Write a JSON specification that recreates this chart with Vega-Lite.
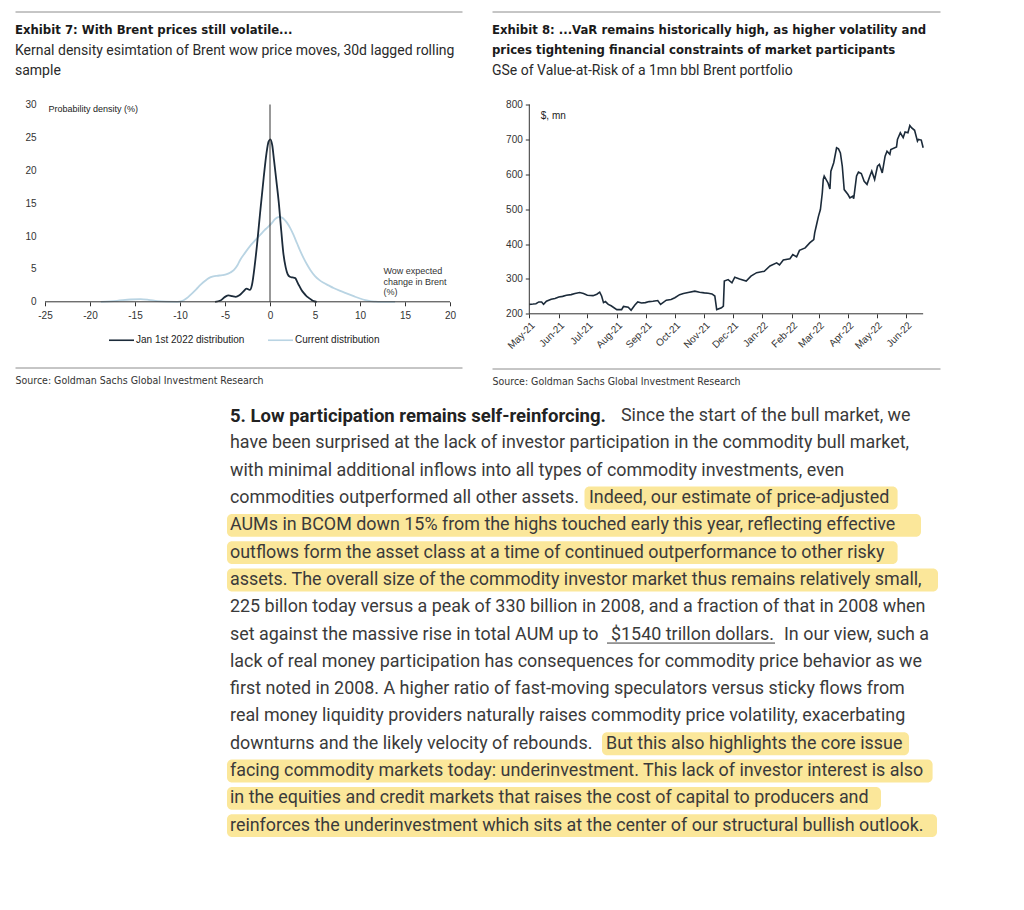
{
  "$schema": "https://vega.github.io/schema/vega-lite/v6.json",
  "background": "white",
  "padding": {"left": 15, "top": 11.5, "right": 10, "bottom": 10},
  "config": {"view": {"stroke": null}, "axis": {"grid": false}},
  "spacing": 15,
  "vconcat": [
    {
      "spacing": 30,
      "hconcat": [
        {
          "width": 447,
          "height": 197.3,
          "title": {
            "text": "Exhibit 7: With Brent prices still volatile...",
            "subtitle": ["Kernal density esimtation of Brent wow price moves, 30d lagged rolling", "sample"],
            "anchor": "start", "frame": "group", "offset": -66,
            "font": "DejaVu Sans Condensed, Liberation Sans Narrow, sans-serif", "fontSize": 13, "fontWeight": "bold", "color": "#1a1a1a", "lineHeight": 20,
            "subtitleFont": "Roboto", "subtitleFontSize": 14, "subtitleColor": "#2a2a2a", "subtitlePadding": 7, "subtitleLineHeight": 20
          },
          "resolve": {"axis": {"x": "independent", "y": "independent"}},
          "layer": [
            {
              "data": {"values": [
                {"series": "Current distribution", "change": -18.8, "density": 0},
                {"series": "Current distribution", "change": -17, "density": 0.15},
                {"series": "Current distribution", "change": -15.5, "density": 0.35},
                {"series": "Current distribution", "change": -14.4, "density": 0.4},
                {"series": "Current distribution", "change": -13.5, "density": 0.3},
                {"series": "Current distribution", "change": -12.5, "density": 0.1},
                {"series": "Current distribution", "change": -11.5, "density": 0.02},
                {"series": "Current distribution", "change": -10.3, "density": 0},
                {"series": "Current distribution", "change": -9.8, "density": 0.1},
                {"series": "Current distribution", "change": -9.3, "density": 0.5},
                {"series": "Current distribution", "change": -8.8, "density": 1.1},
                {"series": "Current distribution", "change": -8.2, "density": 1.9},
                {"series": "Current distribution", "change": -7.7, "density": 2.6},
                {"series": "Current distribution", "change": -7.2, "density": 3.2},
                {"series": "Current distribution", "change": -6.8, "density": 3.6},
                {"series": "Current distribution", "change": -6.3, "density": 3.85},
                {"series": "Current distribution", "change": -5.9, "density": 3.95},
                {"series": "Current distribution", "change": -5.3, "density": 4.05},
                {"series": "Current distribution", "change": -4.8, "density": 4.2},
                {"series": "Current distribution", "change": -4.4, "density": 4.45},
                {"series": "Current distribution", "change": -4.0, "density": 4.85},
                {"series": "Current distribution", "change": -3.6, "density": 5.6},
                {"series": "Current distribution", "change": -3.3, "density": 6.4},
                {"series": "Current distribution", "change": -2.8, "density": 7.4},
                {"series": "Current distribution", "change": -2.2, "density": 8.5},
                {"series": "Current distribution", "change": -1.6, "density": 9.4},
                {"series": "Current distribution", "change": -1.07, "density": 10.2},
                {"series": "Current distribution", "change": -0.6, "density": 10.9},
                {"series": "Current distribution", "change": -0.33, "density": 11.25},
                {"series": "Current distribution", "change": 0.22, "density": 12.0},
                {"series": "Current distribution", "change": 0.5, "density": 12.5},
                {"series": "Current distribution", "change": 0.78, "density": 12.8},
                {"series": "Current distribution", "change": 1.05, "density": 12.9},
                {"series": "Current distribution", "change": 1.33, "density": 12.8},
                {"series": "Current distribution", "change": 1.6, "density": 12.5},
                {"series": "Current distribution", "change": 1.9, "density": 12.0},
                {"series": "Current distribution", "change": 2.25, "density": 11.2},
                {"series": "Current distribution", "change": 2.6, "density": 10.2},
                {"series": "Current distribution", "change": 3.0, "density": 8.9},
                {"series": "Current distribution", "change": 3.37, "density": 7.7},
                {"series": "Current distribution", "change": 3.75, "density": 6.6},
                {"series": "Current distribution", "change": 4.1, "density": 5.7},
                {"series": "Current distribution", "change": 4.5, "density": 4.8},
                {"series": "Current distribution", "change": 5.0, "density": 3.9},
                {"series": "Current distribution", "change": 5.5, "density": 3.3},
                {"series": "Current distribution", "change": 5.95, "density": 2.9},
                {"series": "Current distribution", "change": 6.5, "density": 2.5},
                {"series": "Current distribution", "change": 7.06, "density": 2.1},
                {"series": "Current distribution", "change": 7.8, "density": 1.65},
                {"series": "Current distribution", "change": 8.5, "density": 1.27},
                {"series": "Current distribution", "change": 9.3, "density": 0.85},
                {"series": "Current distribution", "change": 10.0, "density": 0.5},
                {"series": "Current distribution", "change": 10.6, "density": 0.25},
                {"series": "Current distribution", "change": 11.1, "density": 0.1},
                {"series": "Current distribution", "change": 11.7, "density": 0.03},
                {"series": "Current distribution", "change": 12.2, "density": 0},
                {"series": "Current distribution", "change": 13.9, "density": 0},
                {"series": "Jan 1st 2022 distribution", "change": -6.1, "density": 0},
                {"series": "Jan 1st 2022 distribution", "change": -5.5, "density": 0.2},
                {"series": "Jan 1st 2022 distribution", "change": -5.0, "density": 0.75},
                {"series": "Jan 1st 2022 distribution", "change": -4.6, "density": 0.98},
                {"series": "Jan 1st 2022 distribution", "change": -4.2, "density": 0.85},
                {"series": "Jan 1st 2022 distribution", "change": -3.8, "density": 0.75},
                {"series": "Jan 1st 2022 distribution", "change": -3.4, "density": 1.0},
                {"series": "Jan 1st 2022 distribution", "change": -3.0, "density": 1.5},
                {"series": "Jan 1st 2022 distribution", "change": -2.6, "density": 2.0},
                {"series": "Jan 1st 2022 distribution", "change": -2.25, "density": 1.8},
                {"series": "Jan 1st 2022 distribution", "change": -2.0, "density": 2.6},
                {"series": "Jan 1st 2022 distribution", "change": -1.7, "density": 5.5},
                {"series": "Jan 1st 2022 distribution", "change": -1.44, "density": 8.7},
                {"series": "Jan 1st 2022 distribution", "change": -1.1, "density": 13.5},
                {"series": "Jan 1st 2022 distribution", "change": -0.7, "density": 18.9},
                {"series": "Jan 1st 2022 distribution", "change": -0.4, "density": 22.5},
                {"series": "Jan 1st 2022 distribution", "change": -0.15, "density": 24.4},
                {"series": "Jan 1st 2022 distribution", "change": 0.05, "density": 24.7},
                {"series": "Jan 1st 2022 distribution", "change": 0.25, "density": 23.8},
                {"series": "Jan 1st 2022 distribution", "change": 0.45, "density": 21.5},
                {"series": "Jan 1st 2022 distribution", "change": 0.7, "density": 18.5},
                {"series": "Jan 1st 2022 distribution", "change": 0.96, "density": 15.3},
                {"series": "Jan 1st 2022 distribution", "change": 1.25, "density": 10.8},
                {"series": "Jan 1st 2022 distribution", "change": 1.5, "density": 7.2},
                {"series": "Jan 1st 2022 distribution", "change": 1.75, "density": 5.2},
                {"series": "Jan 1st 2022 distribution", "change": 1.96, "density": 4.2},
                {"series": "Jan 1st 2022 distribution", "change": 2.2, "density": 3.8},
                {"series": "Jan 1st 2022 distribution", "change": 2.5, "density": 3.7},
                {"series": "Jan 1st 2022 distribution", "change": 2.81, "density": 3.6},
                {"series": "Jan 1st 2022 distribution", "change": 3.0, "density": 3.1},
                {"series": "Jan 1st 2022 distribution", "change": 3.2, "density": 2.55},
                {"series": "Jan 1st 2022 distribution", "change": 3.5, "density": 1.8},
                {"series": "Jan 1st 2022 distribution", "change": 3.74, "density": 1.35},
                {"series": "Jan 1st 2022 distribution", "change": 4.0, "density": 0.95},
                {"series": "Jan 1st 2022 distribution", "change": 4.3, "density": 0.6},
                {"series": "Jan 1st 2022 distribution", "change": 4.6, "density": 0.3},
                {"series": "Jan 1st 2022 distribution", "change": 4.85, "density": 0.1},
                {"series": "Jan 1st 2022 distribution", "change": 5.2, "density": 0}
              ]},
              "mark": {"type": "line", "interpolate": "monotone", "strokeWidth": 1.8},
              "encoding": {
                "x": {
                  "field": "change", "type": "quantitative",
                  "scale": {"domain": [-28.3333, 21.3333], "nice": false, "zero": false},
                  "axis": {
                    "orient": "bottom", "values": [-25, -20, -15, -10, -5, 0, 5, 10, 15, 20],
                    "labelExpr": "replace(datum.label, '\u2212', '-')",
                    "domain": false, "ticks": true, "tickSize": 4, "tickColor": "#333333", "tickWidth": 1,
                    "labelPadding": 5, "labelFont": "Liberation Sans", "labelFontSize": 10, "labelColor": "#333333",
                    "labelOverlap": false, "labelFlush": false, "grid": false,
                    "title": ["Wow expected", "change in Brent", "(%)"],
                    "titleX": 368, "titleY": -35, "titleAlign": "left", "titleBaseline": "top", "titleAngle": 0,
                    "titleFont": "Liberation Sans", "titleFontSize": 9, "titleFontWeight": "normal", "titleColor": "#333333", "titleLineHeight": 10.5
                  }
                },
                "y": {
                  "field": "density", "type": "quantitative",
                  "scale": {"domain": [0, 30], "nice": false},
                  "axis": {
                    "orient": "left", "offset": -30, "values": [0, 5, 10, 15, 20, 25, 30],
                    "domain": false, "ticks": false, "labelPadding": 9, "labelOverlap": false,
                    "labelFont": "Liberation Sans", "labelFontSize": 10, "labelColor": "#333333", "grid": false,
                    "title": "Probability density (%)", "titleAngle": 0, "titleAlign": "left", "titleBaseline": "middle",
                    "titleX": 3, "titleY": 4, "titleFont": "Liberation Sans", "titleFontSize": 9, "titleFontWeight": "normal", "titleColor": "#222222"
                  }
                },
                "color": {
                  "field": "series", "type": "nominal",
                  "scale": {"domain": ["Jan 1st 2022 distribution", "Current distribution"], "range": ["#1c2b3a", "#b9d4e3"]},
                  "legend": {
                    "orient": "none", "legendX": 93, "legendY": 222, "direction": "horizontal", "title": null,
                    "symbolType": "stroke", "symbolSize": 625, "symbolStrokeWidth": 1.6,
                    "labelFont": "Liberation Sans", "labelFontSize": 10, "labelColor": "#222222", "labelOffset": 1,
                    "columnPadding": 19, "padding": 0
                  }
                }
              }
            },
            {
              "data": {"values": [{}]},
              "mark": {"type": "rule", "color": "#333333", "strokeWidth": 1},
              "encoding": {
                "x": {
                  "datum": 0, "type": "quantitative",
                  "axis": {"orient": "top", "offset": 93, "domain": true, "domainColor": "#8c8c8c", "domainWidth": 1, "ticks": false, "labels": false, "grid": false, "title": null}
                }
              }
            },
            {
              "data": {"values": [{}]},
              "mark": {"type": "rule", "color": "#333333", "strokeWidth": 1},
              "encoding": {
                "x": {
                  "datum": -25, "type": "quantitative",
                  "axis": {
                    "orient": "bottom", "offset": 65.7, "domain": true, "domainColor": "#8c8c8c", "domainWidth": 1,
                    "ticks": false, "labels": false, "grid": false,
                    "title": "Source: Goldman Sachs Global Investment Research",
                    "titleAnchor": "start", "titleAlign": "left", "titleBaseline": "top", "titlePadding": 8,
                    "titleFont": "DejaVu Sans Condensed, Liberation Sans Narrow, sans-serif", "titleFontSize": 10.5, "titleFontWeight": "normal", "titleColor": "#333333"
                  }
                },
                "x2": {"datum": 20},
                "y": {"datum": 0, "type": "quantitative", "axis": null}
              }
            }
          ]
        },
        {
          "width": 448,
          "height": 209.3,
          "title": {
            "text": ["Exhibit 8: ...VaR remains historically high, as higher volatility and", "prices tightening financial constraints of market participants"],
            "subtitle": "GSe of Value-at-Risk of a 1mn bbl Brent portfolio",
            "anchor": "start", "frame": "group", "offset": -66,
            "font": "DejaVu Sans Condensed, Liberation Sans Narrow, sans-serif", "fontSize": 13, "fontWeight": "bold", "color": "#1a1a1a", "lineHeight": 20,
            "subtitleFont": "Roboto", "subtitleFontSize": 14, "subtitleColor": "#2a2a2a", "subtitlePadding": 7, "subtitleLineHeight": 20
          },
          "resolve": {"axis": {"x": "independent", "y": "independent"}},
          "layer": [
            {
              "data": {"values": [
                {"date": "2021-05-01", "var": 227}, {"date": "2021-05-05", "var": 228}, {"date": "2021-05-08", "var": 229},
                {"date": "2021-05-11", "var": 234}, {"date": "2021-05-14", "var": 234}, {"date": "2021-05-16", "var": 227},
                {"date": "2021-05-19", "var": 236}, {"date": "2021-05-24", "var": 242}, {"date": "2021-05-28", "var": 244},
                {"date": "2021-06-01", "var": 248}, {"date": "2021-06-05", "var": 250}, {"date": "2021-06-09", "var": 253},
                {"date": "2021-06-14", "var": 255}, {"date": "2021-06-18", "var": 258}, {"date": "2021-06-23", "var": 261},
                {"date": "2021-06-27", "var": 258}, {"date": "2021-07-01", "var": 253}, {"date": "2021-07-07", "var": 252},
                {"date": "2021-07-11", "var": 256}, {"date": "2021-07-14", "var": 262}, {"date": "2021-07-16", "var": 251},
                {"date": "2021-07-18", "var": 232}, {"date": "2021-07-20", "var": 235}, {"date": "2021-07-23", "var": 227},
                {"date": "2021-07-26", "var": 223}, {"date": "2021-08-01", "var": 212}, {"date": "2021-08-06", "var": 212},
                {"date": "2021-08-08", "var": 221}, {"date": "2021-08-13", "var": 219}, {"date": "2021-08-16", "var": 210},
                {"date": "2021-08-20", "var": 225}, {"date": "2021-08-23", "var": 234}, {"date": "2021-08-27", "var": 231},
                {"date": "2021-08-31", "var": 232}, {"date": "2021-09-04", "var": 235}, {"date": "2021-09-08", "var": 236},
                {"date": "2021-09-13", "var": 238}, {"date": "2021-09-16", "var": 227}, {"date": "2021-09-22", "var": 239},
                {"date": "2021-09-27", "var": 241}, {"date": "2021-10-01", "var": 246}, {"date": "2021-10-06", "var": 255},
                {"date": "2021-10-10", "var": 258}, {"date": "2021-10-15", "var": 261}, {"date": "2021-10-22", "var": 265},
                {"date": "2021-10-27", "var": 262}, {"date": "2021-11-01", "var": 260}, {"date": "2021-11-05", "var": 259},
                {"date": "2021-11-09", "var": 257}, {"date": "2021-11-12", "var": 251}, {"date": "2021-11-14", "var": 212},
                {"date": "2021-11-19", "var": 217}, {"date": "2021-11-21", "var": 222}, {"date": "2021-11-22", "var": 294},
                {"date": "2021-11-26", "var": 298}, {"date": "2021-11-30", "var": 289}, {"date": "2021-12-03", "var": 305},
                {"date": "2021-12-08", "var": 300}, {"date": "2021-12-15", "var": 294}, {"date": "2021-12-20", "var": 308},
                {"date": "2021-12-26", "var": 318}, {"date": "2022-01-03", "var": 322}, {"date": "2022-01-09", "var": 337},
                {"date": "2022-01-16", "var": 346}, {"date": "2022-01-19", "var": 340}, {"date": "2022-01-23", "var": 354},
                {"date": "2022-01-30", "var": 358}, {"date": "2022-02-02", "var": 370}, {"date": "2022-02-06", "var": 363},
                {"date": "2022-02-09", "var": 382}, {"date": "2022-02-15", "var": 389}, {"date": "2022-02-20", "var": 404},
                {"date": "2022-02-24", "var": 413}, {"date": "2022-02-25", "var": 432}, {"date": "2022-02-27", "var": 456},
                {"date": "2022-03-01", "var": 480}, {"date": "2022-03-03", "var": 499}, {"date": "2022-03-05", "var": 547},
                {"date": "2022-03-06", "var": 585}, {"date": "2022-03-07", "var": 595}, {"date": "2022-03-11", "var": 575},
                {"date": "2022-03-13", "var": 558}, {"date": "2022-03-14", "var": 609}, {"date": "2022-03-17", "var": 633},
                {"date": "2022-03-20", "var": 676}, {"date": "2022-03-22", "var": 673}, {"date": "2022-03-24", "var": 661},
                {"date": "2022-03-26", "var": 623}, {"date": "2022-03-28", "var": 556}, {"date": "2022-04-01", "var": 542},
                {"date": "2022-04-03", "var": 532}, {"date": "2022-04-06", "var": 537}, {"date": "2022-04-07", "var": 530},
                {"date": "2022-04-10", "var": 595}, {"date": "2022-04-12", "var": 606}, {"date": "2022-04-15", "var": 602},
                {"date": "2022-04-18", "var": 580}, {"date": "2022-04-21", "var": 571}, {"date": "2022-04-24", "var": 595},
                {"date": "2022-04-26", "var": 609}, {"date": "2022-04-29", "var": 585}, {"date": "2022-05-02", "var": 623},
                {"date": "2022-05-04", "var": 628}, {"date": "2022-05-07", "var": 604}, {"date": "2022-05-10", "var": 652},
                {"date": "2022-05-12", "var": 666}, {"date": "2022-05-15", "var": 657}, {"date": "2022-05-16", "var": 671},
                {"date": "2022-05-22", "var": 678}, {"date": "2022-05-23", "var": 700}, {"date": "2022-05-26", "var": 719},
                {"date": "2022-05-29", "var": 705}, {"date": "2022-05-31", "var": 721}, {"date": "2022-06-03", "var": 719},
                {"date": "2022-06-05", "var": 740}, {"date": "2022-06-07", "var": 733}, {"date": "2022-06-10", "var": 726},
                {"date": "2022-06-13", "var": 695}, {"date": "2022-06-14", "var": 700}, {"date": "2022-06-17", "var": 698},
                {"date": "2022-06-19", "var": 676}
              ]},
              "mark": {"type": "line", "color": "#1c2b3a", "strokeWidth": 1.6},
              "encoding": {
                "x": {
                  "field": "date", "type": "temporal",
                  "scale": {"type": "utc", "nice": false, "domain": [
                    {"year": 2021, "month": 3, "date": 22, "hours": 19, "utc": true},
                    {"year": 2022, "month": 7, "date": 6, "hours": 17, "utc": true}
                  ]},
                  "axis": {
                    "orient": "bottom",
                    "values": [
                      {"year": 2021, "month": 5, "date": 1, "utc": true}, {"year": 2021, "month": 6, "date": 1, "utc": true},
                      {"year": 2021, "month": 7, "date": 1, "utc": true}, {"year": 2021, "month": 8, "date": 1, "utc": true},
                      {"year": 2021, "month": 9, "date": 1, "utc": true}, {"year": 2021, "month": 10, "date": 1, "utc": true},
                      {"year": 2021, "month": 11, "date": 1, "utc": true}, {"year": 2021, "month": 12, "date": 1, "utc": true},
                      {"year": 2022, "month": 1, "date": 1, "utc": true}, {"year": 2022, "month": 2, "date": 1, "utc": true},
                      {"year": 2022, "month": 3, "date": 1, "utc": true}, {"year": 2022, "month": 4, "date": 1, "utc": true},
                      {"year": 2022, "month": 5, "date": 1, "utc": true}, {"year": 2022, "month": 6, "date": 1, "utc": true}
                    ],
                    "format": "%b-%y", "labelAngle": -45,
                    "domain": false, "ticks": true, "tickSize": 4, "tickColor": "#333333",
                    "labelPadding": 2, "labelFont": "Liberation Sans", "labelFontSize": 10, "labelColor": "#333333",
                    "labelOverlap": false, "labelFlush": false, "labelBound": false, "grid": false, "title": null
                  }
                },
                "y": {
                  "field": "var", "type": "quantitative",
                  "scale": {"domain": [200, 800], "nice": false, "zero": false},
                  "axis": {
                    "orient": "left", "offset": -37.3, "values": [200, 300, 400, 500, 600, 700, 800],
                    "domain": false, "ticks": true, "tickSize": 4, "tickColor": "#333333", "labelPadding": 3, "labelOverlap": false,
                    "labelFont": "Liberation Sans", "labelFontSize": 10, "labelColor": "#333333", "grid": false,
                    "title": "$, mn", "titleAngle": 0, "titleAlign": "left", "titleBaseline": "middle",
                    "titleX": 11, "titleY": 11, "titleFont": "Liberation Sans", "titleFontSize": 10, "titleFontWeight": "normal", "titleColor": "#222222"
                  }
                }
              }
            },
            {
              "data": {"values": [{}]},
              "mark": {"type": "rule", "color": "#333333", "strokeWidth": 1},
              "encoding": {
                "x": {
                  "datum": {"year": 2021, "month": 5, "date": 1, "utc": true}, "type": "temporal",
                  "axis": {"orient": "top", "offset": 93, "domain": true, "domainColor": "#8c8c8c", "domainWidth": 1, "ticks": false, "labels": false, "grid": false, "title": null}
                },
                "x2": {"datum": {"year": 2022, "month": 6, "date": 19, "utc": true}},
                "y": {"datum": 200, "type": "quantitative", "axis": null}
              }
            },
            {
              "data": {"values": [{}]},
              "mark": {"type": "rule", "color": "#333333", "strokeWidth": 1},
              "encoding": {
                "x": {
                  "datum": {"year": 2021, "month": 5, "date": 1, "utc": true}, "type": "temporal",
                  "axis": {
                    "orient": "bottom", "offset": 54.7, "domain": true, "domainColor": "#8c8c8c", "domainWidth": 1,
                    "ticks": false, "labels": false, "grid": false,
                    "title": "Source: Goldman Sachs Global Investment Research",
                    "titleAnchor": "start", "titleAlign": "left", "titleBaseline": "top", "titlePadding": 8,
                    "titleFont": "DejaVu Sans Condensed, Liberation Sans Narrow, sans-serif", "titleFontSize": 10.5, "titleFontWeight": "normal", "titleColor": "#333333"
                  }
                }
              }
            }
          ]
        }
      ]
    },
    {
      "width": 925,
      "height": 436.8,
      "layer": [
        {
          "data": {"values": [
            {"line": 4, "from": 354.5, "to": 667.6},
            {"line": 5, "from": -3, "to": 691},
            {"line": 6, "from": -3, "to": 667.6},
            {"line": 7, "from": -3, "to": 708},
            {"line": 13, "from": 372, "to": 679},
            {"line": 14, "from": -3, "to": 702.6},
            {"line": 15, "from": -3, "to": 651},
            {"line": 16, "from": -3, "to": 707}
          ]},
          "mark": {"type": "bar", "color": "#fbe79a", "cornerRadius": 5},
          "encoding": {
            "y": {"field": "line", "type": "ordinal", "axis": null,
                  "scale": {"domain": [1, 2, 3, 4, 5, 6, 7, 8, 9, 10, 11, 12, 13, 14, 15, 16], "paddingInner": 0.16, "paddingOuter": 0.08}},
            "x": {"field": "from", "type": "quantitative", "axis": null, "scale": {"domain": [-215, 710], "nice": false, "zero": false}},
            "x2": {"field": "to"}
          }
        },
        {
          "data": {"values": [{"line": 9, "from": 377, "to": 545}]},
          "mark": {"type": "rule", "color": "#3a3a3a", "strokeWidth": 1, "yOffset": 8.5},
          "encoding": {
            "y": {"field": "line", "type": "ordinal"},
            "x": {"field": "from", "type": "quantitative"},
            "x2": {"field": "to"}
          }
        },
        {
          "data": {"values": [
            {"line": 1, "x": 391, "text": "Since the start of the bull market, we"},
            {"line": 2, "x": 0, "text": "have been surprised at the lack of investor participation in the commodity bull market,"},
            {"line": 3, "x": 0, "text": "with minimal additional inflows into all types of commodity investments, even"},
            {"line": 4, "x": 0, "text": "commodities outperformed all other assets."},
            {"line": 4, "x": 359, "text": "Indeed, our estimate of price-adjusted"},
            {"line": 5, "x": 0, "text": "AUMs in BCOM down 15% from the highs touched early this year, reflecting effective"},
            {"line": 6, "x": 0, "text": "outflows form the asset class at a time of continued outperformance to other risky"},
            {"line": 7, "x": 0, "text": "assets. The overall size of the commodity investor market thus remains relatively small,"},
            {"line": 8, "x": 0, "text": "225 billon today versus a peak of 330 billion in 2008, and a fraction of that in 2008 when"},
            {"line": 9, "x": 0, "text": "set against the massive rise in total AUM up to"},
            {"line": 9, "x": 381, "text": "$1540 trillon dollars."},
            {"line": 9, "x": 554, "text": "In our view, such a"},
            {"line": 10, "x": 0, "text": "lack of real money participation has consequences for commodity price behavior as we"},
            {"line": 11, "x": 0, "text": "first noted in 2008. A higher ratio of fast-moving speculators versus sticky flows from"},
            {"line": 12, "x": 0, "text": "real money liquidity providers naturally raises commodity price volatility, exacerbating"},
            {"line": 13, "x": 0, "text": "downturns and the likely velocity of rebounds."},
            {"line": 13, "x": 376, "text": "But this also highlights the core issue"},
            {"line": 14, "x": 0, "text": "facing commodity markets today: underinvestment. This lack of investor interest is also"},
            {"line": 15, "x": 0, "text": "in the equities and credit markets that raises the cost of capital to producers and"},
            {"line": 16, "x": 0, "text": "reinforces the underinvestment which sits at the center of our structural bullish outlook."}
          ]},
          "mark": {"type": "text", "align": "left", "baseline": "middle", "font": "Roboto", "fontSize": 17.9, "color": "#3a3a3a"},
          "encoding": {
            "y": {"field": "line", "type": "ordinal"},
            "x": {"field": "x", "type": "quantitative"},
            "text": {"field": "text"}
          }
        },
        {
          "data": {"values": [{"line": 1, "x": 0, "text": "5. Low participation remains self-reinforcing."}]},
          "mark": {"type": "text", "align": "left", "baseline": "middle", "font": "Roboto", "fontSize": 18.5, "fontWeight": "bold", "color": "#222222"},
          "encoding": {
            "y": {"field": "line", "type": "ordinal"},
            "x": {"field": "x", "type": "quantitative"},
            "text": {"field": "text"}
          }
        }
      ]
    }
  ]
}
